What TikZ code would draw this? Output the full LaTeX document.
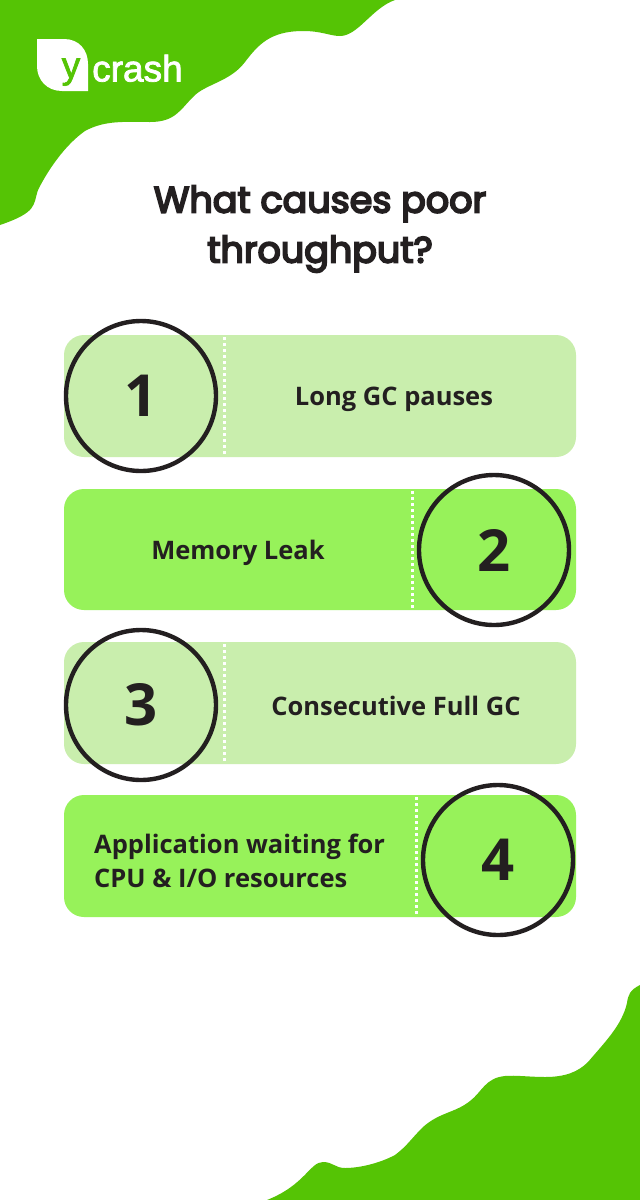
\documentclass[tikz,border=0pt]{standalone}
\usepackage{fontspec}
\setmainfont{Open Sans}
\newfontfamily\titlefont[FakeBold=5]{Poppins}
\newfontfamily\logofont[FakeBold=2]{Liberation Sans}
\definecolor{brand}{HTML}{55C405}
\definecolor{palecard}{HTML}{C9EEAD}
\definecolor{brightcard}{HTML}{97F25A}
\definecolor{ink}{HTML}{231F20}
\tikzset{
  x=1pt,y=-1pt,
  cardbox/.style={rounded corners=20pt,draw=none},
  numring/.style={circle,draw=ink,line width=4.4pt,minimum size=150pt,inner sep=0pt,
    font=\fontsize{58}{60}\selectfont\bfseries,text=ink},
  label/.style={font=\fontsize{25.5}{34}\selectfont\bfseries,text=ink},
  divider/.style={draw=white,line width=3pt,dash pattern=on 3pt off 3pt},
  titletext/.style={font=\fontsize{36.5}{50}\titlefont\selectfont,text=ink,align=center}
}
\begin{document}
\begin{tikzpicture}
\useasboundingbox (0,0) rectangle (640,1200);
\fill[white] (0,0) rectangle (640,1200);
% top blob
\fill[brand] (0,0) -- (395,0)
  .. controls (372,8) and (358,36) .. (340,36)
  .. controls (330,36) and (322,31) .. (303,31)
  .. controls (270,31) and (258,45) .. (245,62)
  .. controls (230,82) and (205,84) .. (193,97)
  .. controls (180,110) and (175,122) .. (150,122)
  .. controls (125,122) and (105,120) .. (85,131)
  .. controls (65,145) and (48,170) .. (38,190)
  .. controls (33,205) and (38,212) .. (0,225) -- cycle;
% bottom blob
\fill[brand] (640,1200) -- (640,985)
  .. controls (630,990) and (628,995) .. (627,1003)
  .. controls (622,1025) and (605,1042) .. (588,1062)
  .. controls (578,1072) and (565,1077) .. (545,1077)
  .. controls (530,1077) and (515,1075) .. (505,1076)
  .. controls (485,1078) and (482,1092) .. (470,1101)
  .. controls (455,1113) and (440,1112) .. (423,1127)
  .. controls (410,1140) and (408,1145) .. (395,1155)
  .. controls (380,1163) and (360,1168) .. (345,1168)
  .. controls (335,1168) and (333,1162) .. (323,1162)
  .. controls (310,1162) and (305,1185) .. (267,1200) -- cycle;
% logo
\fill[white] (37,39) -- (64,39) .. controls (79,39) and (88,50) .. (88,64) -- (88,91) -- (62,91) .. controls (47,91) and (37,80) .. (37,66) -- cycle;
\node[inner sep=0pt,text=brand,anchor=base,font=\fontsize{37}{40}\logofont\selectfont] (logoy) at (71,78) {y};
\node[inner sep=0pt,text=white,anchor=base west,font=\fontsize{37}{40}\logofont\selectfont] (logotext) at (92,81.5) {crash};
% title
\node[titletext] (title) at (320,229) {What causes poor\\throughput?};
% cards
\fill[palecard,cardbox] (64,335) rectangle (576,457);
\fill[brightcard,cardbox] (64,489) rectangle (576,610);
\fill[palecard,cardbox] (64,642) rectangle (576,764);
\fill[brightcard,cardbox] (64,795) rectangle (576,917);
% dividers
\draw[divider] (224,337) -- (224,456);
\draw[divider] (412,491) -- (412,609);
\draw[divider] (224,644) -- (224,763);
\draw[divider] (416,797) -- (416,916);
% rings
\node[numring] (n1) at (141,396) {\raisebox{-1.5pt}{1}};
\node[numring] (n2) at (494,550) {\raisebox{-1.5pt}{2}};
\node[numring] (n3) at (141,705) {\raisebox{-1.5pt}{3}};
\node[numring] (n4) at (498,860) {\raisebox{-1.5pt}{4}};
% labels
\node[label] (t1) at (394,399) {Long GC pauses};
\node[label] (t2) at (238,553) {Memory Leak};
\node[label] (t3) at (396,706) {Consecutive Full GC};
\node[label,align=left,anchor=west,inner sep=0pt] (t4) at (94,861) {Application waiting for\\CPU \& I/O resources};
\end{tikzpicture}
\end{document}
